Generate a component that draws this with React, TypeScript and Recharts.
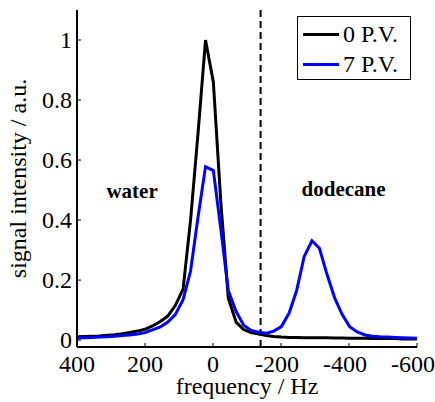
import React from 'react'
import { LineChart, Line, XAxis, YAxis, ReferenceLine, ReferenceDot, Label } from 'recharts'

const freqs = [
  400, 378, 356, 334, 311, 289, 267, 245, 222, 200, 178, 155, 133, 111, 88, 66, 44, 22,
  -1, -23, -45, -68, -90, -112, -135, -157, -179, -201, -224, -246, -268, -291, -313, -335,
  -358, -380, -402, -424, -447, -469, -491, -514, -536, -558, -581, -600,
]

const pv0 = [
  0.011, 0.012, 0.013, 0.014, 0.016, 0.018, 0.021, 0.025, 0.03, 0.036, 0.047, 0.062, 0.08,
  0.115, 0.17, 0.4, 0.69, 1.0,
  0.86, 0.46, 0.14, 0.06, 0.035, 0.025, 0.02, 0.015, 0.012, 0.01, 0.009, 0.009, 0.008, 0.008,
  0.008, 0.008, 0.007, 0.007, 0.006, 0.006, 0.006, 0.005, 0.005, 0.005, 0.005, 0.004, 0.004,
  0.004,
]

const pv7 = [
  0.007, 0.008, 0.009, 0.01, 0.011, 0.013, 0.015, 0.017, 0.02, 0.025, 0.034, 0.044, 0.06,
  0.085, 0.135, 0.23, 0.41, 0.578,
  0.565, 0.37, 0.165, 0.095, 0.05, 0.032, 0.026, 0.023, 0.03, 0.045, 0.09, 0.165, 0.278, 0.331,
  0.306, 0.22, 0.14, 0.085, 0.045, 0.027, 0.017, 0.013, 0.011, 0.01, 0.009, 0.008, 0.007,
  0.006,
]

const xTicks = [400, 200, 0, -200, -400, -600]
const yTicks = [0, 0.2, 0.4, 0.6, 0.8, 1]
const series = [
  { key: 'pv0', name: '0 P.V.', color: '#000000' },
  { key: 'pv7', name: '7 P.V.', color: '#0000ff' },
]
const boundary = -140
const regionLabels = [
  { x: 238, y: 0.5, text: 'water' },
  { x: -384, y: 0.505, text: 'dodecane' },
]

const data = freqs.map((f, i) => ({ f, pv0: pv0[i], pv7: pv7[i] }))

const FONT = '"Liberation Serif", "Times New Roman", serif'

// negative labels sit a little left, as matlab centers the digits
const BottomTick = ({ x, y, payload }: any) => (
  <g>
    <line x1={x} y1={y} x2={x} y2={y - 4} stroke="#000" strokeWidth={1} />
    <text
      x={payload.value < 0 ? x - 4 : x}
      y={y + 25}
      textAnchor="middle"
      fontSize={24}
      fontFamily={FONT}
      fill="#000"
    >
      {payload.value}
    </text>
  </g>
)

const TopTick = ({ x, y }: any) => (
  <line x1={x} y1={y} x2={x} y2={y + 4} stroke="#000" strokeWidth={1} />
)

const LeftTick = ({ x, y, payload }: any) => (
  <g>
    <line x1={x} y1={y} x2={x + 4} y2={y} stroke="#000" strokeWidth={1} />
    <text x={x - 5} y={y + 8} textAnchor="end" fontSize={24} fontFamily={FONT} fill="#000">
      {String(payload.value)}
    </text>
  </g>
)

const RightTick = ({ x, y }: any) => (
  <line x1={x} y1={y} x2={x - 4} y2={y} stroke="#000" strokeWidth={1} />
)

const axisLine = { stroke: '#000', strokeWidth: 2 }

export default function App() {
  return (
    <div style={{ position: 'absolute', left: 0, top: 0, width: 435, height: 402, background: '#fff' }}>
      <LineChart width={435} height={402} data={data} margin={{ top: 10, right: 18, bottom: 0, left: 0 }}>
        <XAxis
          dataKey="f"
          type="number"
          domain={[-600, 400]}
          reversed
          ticks={xTicks}
          height={55}
          tickSize={0}
          tickMargin={0}
          tickLine={false}
          axisLine={axisLine}
          tick={<BottomTick />}
          interval={0}
        >
          <Label
            value="frequency / Hz"
            position="insideBottom"
            offset={8}
            fill="#000"
            fontSize={24}
            fontFamily={FONT}
          />
        </XAxis>
        <XAxis
          xAxisId="top"
          orientation="top"
          dataKey="f"
          type="number"
          domain={[-600, 400]}
          reversed
          ticks={xTicks}
          height={0}
          tickSize={0}
          tickMargin={0}
          tickLine={false}
          axisLine={axisLine}
          tick={<TopTick />}
          interval={0}
        />
        <YAxis
          type="number"
          domain={[-0.023, 1.1]}
          ticks={yTicks}
          width={77}
          tickSize={0}
          tickMargin={0}
          tickLine={false}
          axisLine={axisLine}
          tick={<LeftTick />}
          interval={0}
          allowDataOverflow
        >
          <Label
            value="signal intensity / a.u."
            angle={-90}
            position="insideLeft"
            offset={17}
            fill="#000"
            fontSize={24}
            fontFamily={FONT}
            style={{ textAnchor: 'middle' }}
          />
        </YAxis>
        <YAxis
          yAxisId="right"
          orientation="right"
          type="number"
          domain={[-0.023, 1.1]}
          ticks={yTicks}
          width={0}
          tickSize={0}
          tickMargin={0}
          tickLine={false}
          axisLine={axisLine}
          tick={<RightTick />}
          interval={0}
          allowDataOverflow
        />
        <ReferenceLine x={boundary} stroke="#000" strokeWidth={2} strokeDasharray="7 4" />
        {regionLabels.map((r) => (
          <ReferenceDot
            key={r.text}
            x={r.x}
            y={r.y}
            r={0}
            fill="none"
            stroke="none"
            label={{
              value: r.text,
              position: 'center',
              fill: '#000',
              fontSize: 21,
              fontWeight: 'bold',
              fontFamily: FONT,
            }}
          />
        ))}
        {series.map((s) => (
          <Line
            key={s.key}
            dataKey={s.key}
            name={s.name}
            type="linear"
            stroke={s.color}
            strokeWidth={3}
            dot={false}
            isAnimationActive={false}
          />
        ))}
      </LineChart>
      <div
        style={{
          position: 'absolute',
          left: 297,
          top: 16,
          width: 112,
          height: 62,
          border: '1.5px solid #000',
          background: '#fff',
          fontFamily: FONT,
          fontSize: 24,
          color: '#000',
        }}
      >
        {series.map((s, i) => (
          <div
            key={s.key}
            style={{ position: 'absolute', left: 0, top: 3 + i * 30, height: 28, display: 'flex', alignItems: 'center' }}
          >
            <div style={{ marginLeft: 5, width: 36, height: 3, background: s.color }} />
            <span style={{ marginLeft: 4, lineHeight: '28px', whiteSpace: 'nowrap' }}>{s.name}</span>
          </div>
        ))}
      </div>
    </div>
  )
}
